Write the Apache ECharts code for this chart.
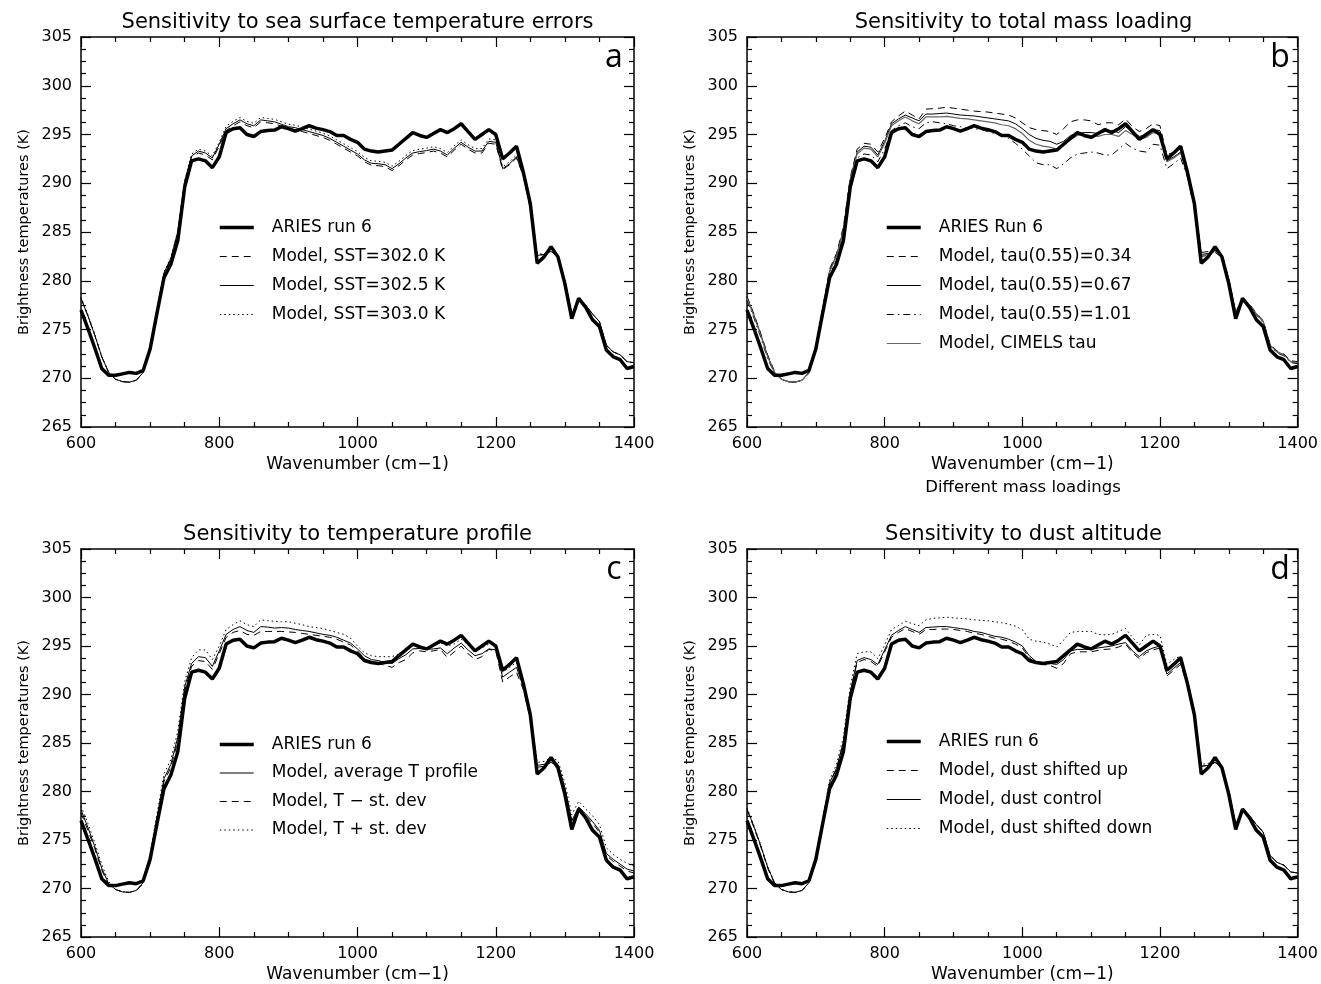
<!DOCTYPE html>
<html>
<head>
<meta charset="utf-8">
<title>Sensitivity of brightness temperatures</title>
<script src="https://cdn.jsdelivr.net/npm/echarts@6/dist/echarts.min.js"></script>
<style>
  html, body { margin: 0; padding: 0; background: #fff; }
  #chart { width: 1321px; height: 984px; }
</style>
</head>
<body>
<div id="chart"></div>
<script>
// wavenumber grid (cm-1)
const wavenumber = [
  600, 610, 620, 630, 640, 650, 660, 670, 680, 690,
  700, 710, 720, 730, 740, 750, 760, 770, 780, 790,
  800, 810, 820, 830, 840, 850, 860, 870, 880, 890,
  900, 910, 920, 930, 940, 950, 960, 970, 980, 990,
  1000, 1010, 1020, 1030, 1040, 1050, 1060, 1070, 1080, 1090,
  1100, 1110, 1120, 1130, 1140, 1150, 1160, 1170, 1180, 1190,
  1200, 1210, 1220, 1230, 1240, 1250, 1260, 1270, 1280, 1290,
  1300, 1310, 1320, 1330, 1340, 1350, 1360, 1370, 1380, 1390,
  1400
];

// measured ARIES run 6 (K)
const aries = [
  277.0, 275.1, 273.1, 271.0, 270.3, 270.3, 270.45, 270.6, 270.5, 270.8,
  273.0, 276.7, 280.3, 281.7, 284.1, 289.6, 292.3, 292.5, 292.3, 291.6,
  292.7, 295.2, 295.6, 295.7, 295.0, 294.8, 295.3, 295.4, 295.45, 295.8,
  295.6, 295.35, 295.6, 295.9, 295.65, 295.5, 295.3, 294.9, 294.9, 294.5,
  294.2, 293.5, 293.3, 293.2, 293.3, 293.4, 294.0, 294.6, 295.2, 294.9,
  294.7, 295.1, 295.5, 295.2, 295.6, 296.1, 295.3, 294.5, 295.0, 295.5,
  295.0, 292.5, 293.1, 293.8, 291.1, 287.9, 281.8, 282.45, 283.5, 282.45,
  279.7, 276.1, 278.2, 277.3, 276.0, 275.3, 272.9, 272.2, 271.9, 271.0,
  271.2
];

// panel a: SST
const sst302_0 = [
  278.2, 276.4, 274.4, 272.2, 270.6, 269.9, 269.65, 269.6, 269.8, 270.6,
  273.2, 277.0, 280.7, 282.2, 284.9, 290.1, 292.7, 293.1, 292.9, 292.4,
  293.8, 295.4, 295.9, 296.3, 295.9, 295.7, 296.3, 296.2, 296.1, 295.85,
  295.6, 295.5, 295.3, 295.1, 294.9, 294.7, 294.4, 294.0, 293.6, 293.2,
  292.8, 292.2, 291.85, 291.8, 291.7, 291.3, 291.8, 292.4, 292.9, 293.05,
  293.15, 293.3, 293.1, 292.7, 293.4, 294.0, 293.5, 293.1, 293.1, 294.1,
  294.0, 291.4, 291.9, 292.6, 290.7, 287.4, 282.6, 282.7, 283.0, 282.5,
  280.0, 276.6, 278.0, 277.5, 276.6, 275.8, 273.4, 272.7, 272.4, 271.7,
  271.6
];
const sst302_5 = [
  278.2, 276.4, 274.4, 272.2, 270.6, 269.9, 269.65, 269.6, 269.8, 270.6,
  273.2, 277.0, 280.8, 282.3, 285.0, 290.2, 292.8, 293.3, 293.1, 292.6,
  294.0, 295.6, 296.1, 296.5, 296.1, 295.9, 296.5, 296.4, 296.3, 296.05,
  295.8, 295.7, 295.5, 295.3, 295.1, 294.9, 294.6, 294.2, 293.8, 293.4,
  293.0, 292.4, 292.05, 292.0, 291.9, 291.5, 292.0, 292.6, 293.1, 293.25,
  293.35, 293.5, 293.3, 292.9, 293.6, 294.2, 293.7, 293.3, 293.3, 294.3,
  294.2, 291.5, 292.0, 292.7, 290.8, 287.5, 282.6, 282.7, 283.0, 282.5,
  280.0, 276.6, 278.0, 277.5, 276.6, 275.8, 273.4, 272.7, 272.4, 271.7,
  271.6
];
const sst303_0 = [
  278.3, 276.5, 274.5, 272.3, 270.6, 269.9, 269.65, 269.6, 269.8, 270.6,
  273.3, 277.1, 280.9, 282.4, 285.1, 290.3, 293.0, 293.5, 293.3, 292.8,
  294.2, 295.85, 296.35, 296.75, 296.35, 296.15, 296.75, 296.65, 296.55, 296.3,
  296.05, 295.95, 295.75, 295.55, 295.35, 295.15, 294.85, 294.45, 294.05, 293.65,
  293.25, 292.65, 292.3, 292.25, 292.15, 291.75, 292.25, 292.85, 293.35, 293.5,
  293.6, 293.75, 293.55, 293.15, 293.85, 294.45, 293.95, 293.55, 293.55, 294.55,
  294.45, 291.7, 292.2, 292.9, 291.0, 287.6, 282.7, 282.8, 283.1, 282.6,
  280.0, 276.6, 278.0, 277.5, 276.6, 275.8, 273.4, 272.7, 272.4, 271.7,
  271.6
];

// panel b: mass loading
const tau034 = [
  278.4, 276.6, 274.6, 272.4, 270.7, 269.9, 269.65, 269.6, 269.8, 270.6,
  273.3, 277.2, 281.2, 282.8, 285.5, 290.6, 293.5, 294.1, 294.0, 293.2,
  294.6, 296.3, 296.9, 297.4, 297.0, 296.6, 297.6, 297.65, 297.7, 297.8,
  297.7, 297.6, 297.5, 297.4, 297.35, 297.3, 297.2, 297.1, 297.0, 296.7,
  296.2, 295.7, 295.5, 295.4, 295.3, 295.0, 295.6, 296.3, 296.5, 296.5,
  296.4, 296.0, 296.2, 296.2, 296.0, 296.6, 295.8, 295.3, 295.6, 296.1,
  295.9, 292.9, 293.2, 293.6, 291.3, 287.9, 282.9, 283.0, 283.2, 282.7,
  280.2, 276.8, 278.2, 277.6, 276.7, 275.9, 273.5, 272.8, 272.5, 271.8,
  271.7
];
const tau067 = [
  278.3, 276.5, 274.5, 272.3, 270.6, 269.9, 269.65, 269.6, 269.8, 270.6,
  273.2, 277.1, 281.0, 282.6, 285.2, 290.4, 293.2, 293.8, 293.7, 292.9,
  294.3, 296.1, 296.6, 297.0, 296.7, 296.4, 297.1, 297.1, 297.15, 297.2,
  297.1, 297.0, 296.95, 296.9, 296.8, 296.7, 296.6, 296.5, 296.4, 296.1,
  295.6, 295.0, 294.6, 294.4, 294.3, 294.0, 294.3, 294.9, 295.1, 295.2,
  295.2, 295.1, 295.3, 295.4, 295.2, 295.8, 295.3, 294.8, 295.0, 295.5,
  295.4, 292.3, 292.7, 293.2, 291.0, 287.7, 282.7, 282.8, 283.1, 282.6,
  280.1, 276.7, 278.1, 277.5, 276.6, 275.8, 273.4, 272.7, 272.4, 271.7,
  271.6
];
const tau101 = [
  278.0, 276.2, 274.2, 272.0, 270.5, 269.9, 269.65, 269.6, 269.8, 270.5,
  273.0, 276.8, 280.6, 282.1, 284.7, 289.9, 292.6, 293.0, 292.9, 292.2,
  293.5, 295.4, 295.9, 296.2, 295.8, 295.6, 296.2, 296.3, 296.2, 296.1,
  295.9, 295.8, 295.7, 295.6, 295.5, 295.3, 295.1, 294.9, 294.6, 294.1,
  293.5, 292.8, 292.1, 291.9, 291.9, 291.5, 292.0, 292.6, 293.0, 293.1,
  293.2, 293.1, 292.9, 292.9, 293.5, 294.1, 293.6, 293.3, 293.2, 294.0,
  293.9, 291.5, 292.0, 292.6, 290.6, 287.3, 282.5, 282.6, 282.9, 282.4,
  279.9, 276.5, 277.9, 277.4, 276.5, 275.7, 273.3, 272.6, 272.3, 271.6,
  271.5
];
const tauCimels = [
  278.2, 276.4, 274.4, 272.2, 270.6, 269.9, 269.65, 269.6, 269.8, 270.6,
  273.2, 277.0, 280.9, 282.5, 285.1, 290.3, 293.0, 293.6, 293.5, 292.7,
  294.1, 295.9, 296.4, 296.8, 296.4, 296.1, 296.8, 296.8, 296.8, 296.85,
  296.75, 296.65, 296.6, 296.5, 296.4, 296.3, 296.2, 296.0, 295.9, 295.6,
  295.1, 294.4, 294.0, 293.8, 293.7, 293.5, 293.9, 294.5, 294.9, 295.0,
  294.9, 294.8, 295.0, 295.0, 294.8, 295.4, 295.0, 294.5, 294.7, 295.2,
  295.1, 292.2, 292.6, 293.1, 290.9, 287.6, 282.6, 282.7, 283.0, 282.5,
  280.0, 276.6, 278.0, 277.5, 276.6, 275.8, 273.4, 272.7, 272.4, 271.7,
  271.6
];

// panel c: temperature profile
const tAverage = [
  278.1, 276.3, 274.3, 272.1, 270.5, 269.9, 269.65, 269.6, 269.8, 270.6,
  273.3, 277.3, 281.3, 282.8, 285.6, 290.8, 293.2, 293.9, 293.8, 292.9,
  294.5, 296.2, 296.7, 297.0, 296.6, 296.4, 297.0, 296.95, 296.85, 296.9,
  296.85, 296.7, 296.6, 296.5, 296.35, 296.2, 296.1, 295.9, 295.6, 295.3,
  294.7, 294.0, 293.6, 293.5, 293.3, 293.2, 293.7, 294.1, 294.7, 294.75,
  294.65, 294.7, 294.8, 294.2, 294.8, 295.3, 294.6, 294.0, 294.2, 294.7,
  294.6, 291.8, 292.3, 292.8, 290.8, 287.7, 282.7, 282.8, 283.2, 282.8,
  280.4, 277.0, 278.4, 277.7, 276.9, 276.0, 273.6, 273.0, 272.5, 272.0,
  271.8
];
const tMinusSd = [
  277.8, 276.0, 274.1, 271.9, 270.4, 269.9, 269.65, 269.6, 269.8, 270.5,
  273.1, 277.0, 281.0, 282.5, 285.2, 290.4, 292.9, 293.5, 293.4, 292.6,
  294.2, 295.9, 296.4, 296.6, 296.2, 296.1, 296.5, 296.5, 296.5, 296.5,
  296.45, 296.4, 296.3, 296.2, 296.1, 296.0, 295.9, 295.7, 295.4, 295.1,
  294.5, 293.7, 293.3, 293.2, 293.0, 292.8, 293.3, 293.6, 294.3, 294.5,
  294.4, 294.5, 294.65, 293.8, 294.4, 295.0, 294.2, 293.6, 293.9, 294.65,
  294.5, 291.3, 291.8, 292.3, 290.5, 287.5, 282.5, 282.6, 283.0, 282.6,
  280.2, 276.8, 278.2, 277.5, 276.7, 275.8, 273.4, 272.8, 272.3, 271.8,
  271.6
];
const tPlusSd = [
  278.5, 276.7, 274.7, 272.5, 270.7, 269.9, 269.65, 269.6, 269.8, 270.7,
  273.6, 277.7, 281.8, 283.3, 286.2, 291.3, 293.8, 294.6, 294.6, 293.6,
  295.0, 296.7, 297.2, 297.6, 297.2, 297.0, 297.7, 297.6, 297.55, 297.5,
  297.5, 297.35, 297.2, 297.0, 296.9, 296.8, 296.6, 296.4, 296.2, 295.8,
  295.0, 294.3, 294.0, 293.9, 293.9, 293.9, 294.2, 294.5, 295.2, 295.0,
  294.8, 295.1, 295.35, 295.0, 295.2, 295.7, 295.1, 294.5, 294.8, 295.2,
  295.1, 292.3, 292.8, 293.3, 291.3, 288.1, 283.0, 283.1, 283.5, 283.2,
  280.9, 277.6, 279.0, 278.2, 277.5, 276.6, 274.2, 273.5, 273.0, 272.6,
  272.3
];

// panel d: dust altitude
const dustUp = [
  278.1, 276.3, 274.3, 272.1, 270.5, 269.9, 269.65, 269.6, 269.8, 270.6,
  273.1, 276.9, 280.8, 282.3, 285.0, 290.2, 293.3, 293.6, 293.4, 292.9,
  294.4, 295.9, 296.4, 296.8, 296.5, 296.2, 296.7, 296.7, 296.75, 296.75,
  296.7, 296.6, 296.5, 296.3, 296.2, 296.0, 295.8, 295.7, 295.5, 295.2,
  294.8, 293.8, 293.2, 293.1, 293.0, 292.7, 293.2, 294.2, 294.4, 294.4,
  294.4, 294.55, 294.65, 294.7, 294.9, 295.2, 294.3, 293.7, 294.3, 294.6,
  294.8, 291.9, 292.5, 293.1, 290.9, 287.6, 282.6, 282.7, 283.0, 282.5,
  280.0, 276.6, 278.0, 277.5, 276.6, 275.8, 273.4, 272.7, 272.4, 271.7,
  271.6
];
const dustControl = [
  278.2, 276.4, 274.4, 272.2, 270.6, 269.9, 269.65, 269.6, 269.8, 270.6,
  273.2, 277.0, 280.9, 282.4, 285.1, 290.3, 293.5, 293.8, 293.6, 293.1,
  294.6, 296.1, 296.6, 297.0, 296.7, 296.4, 296.9, 296.95, 297.0, 297.0,
  296.9, 296.8, 296.7, 296.5, 296.4, 296.2, 296.0, 295.9, 295.7, 295.4,
  295.0, 294.0, 293.4, 293.3, 293.2, 293.1, 293.6, 294.5, 294.65, 294.65,
  294.65, 294.8, 294.9, 295.0, 295.2, 295.35, 294.5, 293.9, 294.5, 294.8,
  295.0, 292.1, 292.7, 293.3, 291.0, 287.7, 282.6, 282.7, 283.0, 282.5,
  280.0, 276.6, 278.0, 277.5, 276.6, 275.8, 273.4, 272.7, 272.4, 271.7,
  271.6
];
const dustDown = [
  278.3, 276.5, 274.5, 272.3, 270.6, 269.9, 269.65, 269.6, 269.8, 270.6,
  273.3, 277.2, 281.2, 282.8, 285.6, 290.8, 294.2, 294.4, 294.4, 293.7,
  295.1, 296.7, 297.1, 297.55, 297.3, 297.1, 297.7, 297.85, 297.9, 297.97,
  297.9, 297.85, 297.8, 297.7, 297.65, 297.6, 297.5, 297.4, 297.25, 297.05,
  296.7, 295.7, 295.5, 295.4, 295.2, 294.9, 295.6, 296.4, 296.5, 296.5,
  296.5, 296.2, 296.15, 296.2, 296.5, 296.8, 295.9, 295.1, 296.1, 296.2,
  296.1, 293.1, 293.6, 294.0, 291.5, 288.0, 282.8, 282.9, 283.2, 282.7,
  280.1, 276.7, 278.1, 277.5, 276.6, 275.8, 273.4, 272.7, 272.4, 271.7,
  271.6
];

const panelTitles = [
  'Sensitivity to sea surface temperature errors',
  'Sensitivity to total mass loading',
  'Sensitivity to temperature profile',
  'Sensitivity to dust altitude'
];
const panelLetters = ['a', 'b', 'c', 'd'];

const FONT = 'DejaVu Sans';
const DASH = [7, 5], DOT = [1.5, 3], DASHDOT = [7, 4, 1.5, 4];

const grids = [
  { left: 81, top: 37, width: 553, height: 390 },
  { left: 747, top: 37, width: 553, height: 390 },
  { left: 81, top: 549, width: 553, height: 390 },
  { left: 747, top: 549, width: 553, height: 390 }
];

function pairs(vals) {
  return wavenumber.map((w, i) => [w, vals[i]]);
}

const frameLine = { lineStyle: { color: '#000', width: 1.5 }, onZero: false };
const tickStyle = { lineStyle: { color: '#000', width: 1.2 } };

const xAxes = [], yAxes = [];
grids.forEach((g, i) => {
  ['bottom', 'top'].forEach(pos => {
    xAxes.push({
      gridIndex: i, type: 'value', position: pos,
      min: 600, max: 1400, interval: 200,
      axisLine: frameLine,
      axisTick: Object.assign({ inside: true, length: 10 }, tickStyle),
      minorTick: Object.assign({ show: true, splitNumber: 4, length: 5 }, tickStyle),
      splitLine: { show: false },
      axisLabel: { show: pos === 'bottom', color: '#000', fontSize: 16, fontFamily: FONT, margin: 9,
                   formatter: v => String(v) },
      name: pos === 'bottom' ? 'Wavenumber (cm\u22121)' : '',
      nameLocation: 'middle', nameGap: 29,
      nameTextStyle: { color: '#000', fontSize: 17, fontFamily: FONT }
    });
  });
  ['left', 'right'].forEach(pos => {
    yAxes.push({
      gridIndex: i, type: 'value', position: pos,
      min: 265, max: 305, interval: 5,
      axisLine: frameLine,
      axisTick: Object.assign({ inside: true, length: 10 }, tickStyle),
      minorTick: Object.assign({ show: true, splitNumber: 4, length: 5 }, tickStyle),
      splitLine: { show: false },
      axisLabel: { show: pos === 'left', color: '#000', fontSize: 16, fontFamily: FONT, margin: 9 },
      name: pos === 'left' ? 'Brightness temperatures (K)' : '',
      nameLocation: 'middle', nameGap: 49,
      nameTextStyle: { color: '#000', fontSize: 14.5, fontFamily: FONT }
    });
  });
});

function line(panel, name, vals, width, type, color) {
  return {
    type: 'line', name: name,
    xAxisIndex: panel * 2, yAxisIndex: panel * 2,
    data: pairs(vals), symbol: 'none', silent: true,
    lineStyle: { color: color || '#000', width: width, type: type || 'solid' },
    itemStyle: { color: color || '#000' }
  };
}

const series = [
  line(0, 'Model, SST=302.0 K', sst302_0, 1, DASH),
  line(0, 'Model, SST=302.5 K', sst302_5, 1),
  line(0, 'Model, SST=303.0 K', sst303_0, 1, DOT),
  line(0, 'ARIES run 6', aries, 3.5),

  line(1, 'Model, tau(0.55)=0.34', tau034, 1, DASH),
  line(1, 'Model, tau(0.55)=0.67', tau067, 1),
  line(1, 'Model, tau(0.55)=1.01', tau101, 1, DASHDOT),
  line(1, 'Model, CIMELS tau', tauCimels, 1.2, 'solid', '#666'),
  line(1, 'ARIES Run 6', aries, 3.5),

  line(2, 'Model, average T profile', tAverage, 1),
  line(2, 'Model, T \u2212 st. dev', tMinusSd, 1, DASH),
  line(2, 'Model, T + st. dev', tPlusSd, 1, DOT),
  line(2, 'ARIES run 6', aries, 3.5),

  line(3, 'Model, dust shifted up', dustUp, 1, DASH),
  line(3, 'Model, dust control', dustControl, 1),
  line(3, 'Model, dust shifted down', dustDown, 1, DOT),
  line(3, 'ARIES run 6', aries, 3.5)
];

function legend(names, left, top, gap) {
  return {
    data: names, orient: 'vertical', left: left, top: top, padding: 0,
    itemWidth: 34, itemHeight: 17, itemGap: gap,
    selectedMode: false,
    itemStyle: { opacity: 0 },
    lineStyle: { width: 'inherit', type: 'inherit' },
    textStyle: { color: '#000', fontSize: 17, lineHeight: 17, fontFamily: FONT, padding: [0, 0, 0, 13] }
  };
}

const legends = [
  legend(['ARIES run 6', 'Model, SST=302.0 K', 'Model, SST=302.5 K', 'Model, SST=303.0 K'], 218, 219, 12),
  legend(['ARIES Run 6', 'Model, tau(0.55)=0.34', 'Model, tau(0.55)=0.67', 'Model, tau(0.55)=1.01', 'Model, CIMELS tau'], 885, 219, 12),
  legend(['ARIES run 6', 'Model, average T profile', 'Model, T \u2212 st. dev', 'Model, T + st. dev'], 218, 736, 11.5),
  legend(['ARIES run 6', 'Model, dust shifted up', 'Model, dust control', 'Model, dust shifted down'], 885, 733, 12)
];

const graphics = [];
grids.forEach((g, i) => {
  graphics.push({
    type: 'text', silent: true,
    style: {
      text: panelTitles[i], x: g.left + g.width / 2, y: g.top - 14,
      align: 'center', verticalAlign: 'middle',
      fill: '#000', fontSize: 21, fontFamily: FONT
    }
  });
  graphics.push({
    type: 'text', silent: true,
    style: {
      text: panelLetters[i], x: g.left + g.width - 20, y: g.top + 21,
      align: 'center', verticalAlign: 'middle',
      fill: '#000', fontSize: 32, fontFamily: 'Open Sans'
    }
  });
});
graphics.push({
  type: 'text', silent: true,
  style: {
    text: 'Different mass loadings', x: 1023, y: 488,
    align: 'center', verticalAlign: 'middle',
    fill: '#000', fontSize: 16.5, fontFamily: FONT
  }
});

const chart = echarts.init(document.getElementById('chart'));
chart.setOption({
  animation: false,
  backgroundColor: '#fff',
  grid: grids,
  xAxis: xAxes,
  yAxis: yAxes,
  legend: legends,
  graphic: graphics,
  series: series
});
</script>
</body>
</html>
